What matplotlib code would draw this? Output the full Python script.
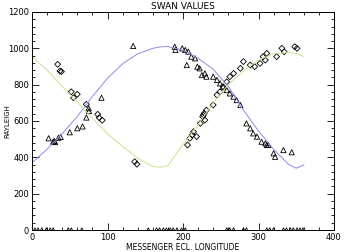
import matplotlib
matplotlib.use("Agg")
import matplotlib.pyplot as plt
from matplotlib.ticker import MultipleLocator

# model curves
curve_lon = [0, 20, 40, 60, 80, 100, 120, 140, 160, 170, 180, 200, 220, 240,
             260, 280, 300, 320, 340, 350, 360]
blue_vals = [370, 445, 530, 625, 735, 835, 915, 970, 1000, 1008, 1010, 990,
             945, 885, 790, 660, 545, 445, 360, 340, 358]
green_vals = [955, 880, 790, 705, 615, 530, 460, 395, 350, 345, 355, 470,
              580, 700, 800, 875, 935, 970, 978, 972, 955]

# triangles
tri_lon = [22, 28, 29.5, 30.5, 35, 38, 50, 60, 67, 72, 75, 75.5, 92, 134,
           189, 190, 199, 203, 205, 207, 211, 216, 219, 222, 225, 229, 231,
           240, 245, 249, 253, 258, 262, 267, 271, 276, 284, 289, 293, 298,
           304, 309, 311, 313, 320, 322, 333, 344]
tri_vals = [505, 486, 490, 484, 508, 512, 538, 560, 570, 619, 670, 655, 728,
            1013, 1009, 991, 1000, 991, 908, 982, 954, 945, 899, 890, 853,
            862, 844, 844, 826, 807, 789, 770, 752, 734, 715, 688, 587, 560,
            532, 514, 486, 477, 468, 468, 422, 403, 440, 428]

# diamonds
dia_lon = [34, 37, 39, 52, 55, 60, 72, 87, 89, 93, 136, 139, 206, 209, 212,
           214, 218, 223, 226, 227, 228, 229, 231, 240, 245, 249, 253, 258,
           262, 267, 276, 280, 289, 295, 302, 306, 309, 311, 324, 331, 334,
           348, 351]
dia_vals = [912, 875, 872, 761, 728, 747, 692, 637, 618, 604, 376, 362, 468,
            505, 523, 541, 514, 587, 624, 633, 642, 605, 660, 688, 743, 761,
            789, 816, 844, 862, 890, 927, 908, 899, 917, 954, 935, 972, 954,
            1000, 981, 1009, 1000]

# missing values plotted at zero
zero_lon = [0, 4, 8, 13, 19, 24, 28, 48, 52, 66, 154, 165, 169, 174, 178,
            183, 187, 192, 198, 203, 258, 262, 267, 280, 284, 311, 315, 320,
            333, 337, 342, 346, 351, 355, 359]
zero_vals = [0] * len(zero_lon)

fig = plt.figure(figsize=(3.45, 2.52), dpi=100)
ax = fig.add_axes([32 / 345, 1 - 230 / 252, 302 / 345, 218 / 252])

ax.plot(curve_lon, blue_vals, color="#8c8ce6", lw=0.7)
ax.plot(curve_lon, green_vals, color="#c4e68c", lw=0.7)
ax.scatter(tri_lon, tri_vals, marker="^", s=14, facecolors="none",
           edgecolors="black", linewidths=0.6)
ax.scatter(dia_lon, dia_vals, marker="D", s=9, facecolors="none",
           edgecolors="black", linewidths=0.6)
ax.scatter(zero_lon, zero_vals, marker="^", s=10, facecolors="none",
           edgecolors="black", linewidths=0.6)

ax.set_xlim(0, 400)
ax.set_ylim(0, 1200)
ax.xaxis.set_major_locator(MultipleLocator(100))
ax.xaxis.set_minor_locator(MultipleLocator(20))
ax.yaxis.set_major_locator(MultipleLocator(200))
ax.yaxis.set_minor_locator(MultipleLocator(40))
ax.tick_params(which="both", direction="in", top=True, right=True,
               labelsize=6, width=0.6, pad=2)
ax.tick_params(which="major", length=5)
ax.tick_params(which="minor", length=2.5)
for s in ax.spines.values():
    s.set_linewidth(0.7)

ax.set_title("SWAN VALUES", fontsize=6.5, pad=2)
ax.set_xlabel("MESSENGER ECL. LONGITUDE", fontsize=5.5, labelpad=1)
fig.text(7 / 345, 1 - 121 / 252, "RAYLEIGH", fontsize=5, rotation=90,
         ha="center", va="center")

fig.savefig("out.png", dpi=100)
